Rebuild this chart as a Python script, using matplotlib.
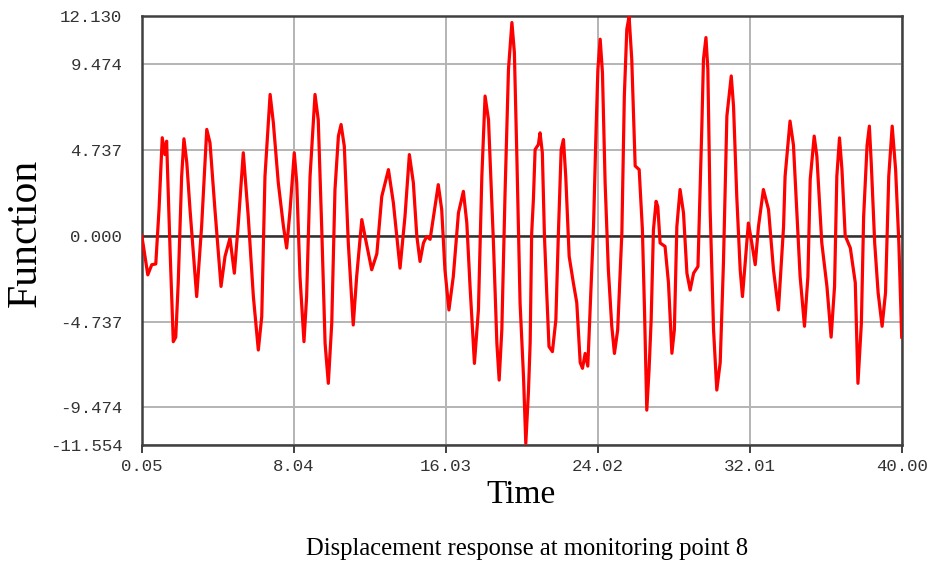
import matplotlib
matplotlib.use("Agg")
import matplotlib.pyplot as plt

# ---- data (time, displacement) ----
time = [0.05, 0.13, 0.37, 0.58, 0.79, 0.96, 1.13, 1.27, 1.36, 1.54, 1.71, 1.84, 1.97,
        2.15, 2.27, 2.42, 2.59, 2.94, 3.20, 3.47, 3.64, 3.90, 4.22, 4.43, 4.69, 4.92,
        5.13, 5.39, 5.65, 5.92, 6.18, 6.36, 6.53, 6.80, 6.97, 7.23, 7.50, 7.67, 7.85,
        8.07, 8.20, 8.37, 8.58, 8.72, 8.90, 9.16, 9.33, 9.51, 9.69, 9.86, 10.04, 10.21,
        10.39, 10.53, 10.70, 10.91, 11.17, 11.35, 11.62, 11.79, 12.14, 12.41, 12.67,
        13.02, 13.28, 13.63, 13.89, 14.12, 14.33, 14.51, 14.68, 14.86, 15.03, 15.21,
        15.47, 15.64, 15.82, 15.99, 16.20, 16.43, 16.70, 16.96, 17.14, 17.31, 17.54,
        17.75, 17.93, 18.10, 18.28, 18.54, 18.72, 18.84, 18.98, 19.15, 19.33, 19.51,
        19.64, 19.77, 19.94, 20.12, 20.24, 20.38, 20.47, 20.55, 20.64, 20.73, 20.90,
        20.99, 21.11, 21.22, 21.34, 21.46, 21.64, 21.82, 21.95, 22.10, 22.22, 22.34,
        22.52, 22.74, 22.92, 23.10, 23.22, 23.36, 23.50, 23.62, 23.80, 23.92, 24.03,
        24.15, 24.27, 24.41, 24.58, 24.76, 24.90, 25.07, 25.29, 25.42, 25.55, 25.67,
        25.81, 25.99, 26.20, 26.37, 26.48, 26.60, 26.72, 26.83, 26.95, 27.09, 27.18,
        27.30, 27.56, 27.74, 27.92, 28.05, 28.18, 28.35, 28.53, 28.71, 28.88, 29.06,
        29.29, 29.41, 29.49, 29.58, 29.71, 29.81, 29.93, 30.11, 30.28, 30.46, 30.63,
        30.81, 31.04, 31.16, 31.33, 31.51, 31.63, 31.77, 31.94, 32.12, 32.30, 32.47,
        32.73, 33.00, 33.26, 33.52, 33.79, 33.87, 34.13, 34.31, 34.48, 34.66, 34.89,
        35.07, 35.19, 35.40, 35.54, 35.80, 36.07, 36.29, 36.47, 36.59, 36.73, 36.86,
        37.03, 37.30, 37.56, 37.70, 37.88, 38.00, 38.18, 38.30, 38.40, 38.58, 38.76,
        38.97, 39.15, 39.32, 39.50, 39.68, 39.85, 40.00]
displacement = [0.0, -0.5, -2.16, -1.6, -1.56, 1.44, 5.41, 4.48, 5.22, -0.77, -5.85, -5.6, -2.6,
                3.28, 5.35, 4.04, 1.44, -3.36, 0.52, 5.87, 5.13, 1.44, -2.8, -1.14, -0.13, -2.07,
                0.7, 4.58, 1.07, -3.36, -6.31, -4.47, 3.28, 7.8, 6.24, 2.92, 0.52, -0.68, 1.44,
                4.58, 2.92, -2.25, -5.85, -3.36, 3.28, 7.8, 6.4, 0.52, -5.94, -8.15, -4.83, 2.55,
                5.5, 6.14, 4.94, -0.4, -4.93, -2.25, 0.89, -0.04, -1.88, -1.0, 2.17,
                3.65, 1.81, -1.79, 1.07, 4.48, 2.92, 0.0, -1.42, -0.4, -0.04, -0.2,
                1.62, 2.82, 1.44, -1.88, -4.1, -2.25, 1.26, 2.45, 0.7, -2.8, -7.05,
                -4.1, 3.28, 7.71, 6.4, -0.4, -5.94, -7.97, -5.2, 2.36, 9.19, 11.77,
                10.11, 4.39, -3.73, -7.78, -11.47, -8.6, -5.9, 0.15, 2.0, 4.76, 5.03,
                5.68, 4.58, 0.0, -3.14, -6.12, -6.4, -4.65, 0.0, 4.76, 5.31, 3.28,
                -1.14, -2.6, -3.7, -7.0, -7.32, -6.5, -7.2, -4.1, 0.5, 5.3, 9.19,
                10.85, 9.0, 2.92, -1.88, -5.0, -6.5, -5.2, 0.15, 7.71, 11.4, 12.1,
                9.74, 3.85, 3.65, 0.33, -4.1, -9.63, -7.4, -4.65, 0.33, 1.9, 1.6,
                -0.4, -0.59, -2.6, -6.49, -5.2, 0.5, 2.55, 1.26, -2.07, -3.0, -2.07,
                -1.7, 2.92, 5.87, 9.74, 10.94, 9.19, 1.44, -5.2, -8.52, -7.0, -1.5,
                6.6, 8.82, 7.15, 2.17, -1.88, -3.36, -1.5, 0.7, -0.4, -1.6, 0.5,
                2.55, 1.44, -1.88, -4.1, 0.5, 3.28, 6.33, 5.0, 1.44, -2.25, -5.0,
                -2.25, 3.1, 5.5, 4.39, -0.4, -2.8, -5.6, -2.8, 3.28, 5.4, 3.65,
                0.0, -0.68, -2.6, -8.15, -4.83, 1.07, 5.0, 6.05, 4.0, -0.4, -3.14,
                -5.0, -3.14, 3.28, 6.05, 3.65, -0.4, -5.6]

x_ticks = [0.05, 8.04, 16.03, 24.02, 32.01, 40.00]
x_tick_labels = ["0.05", "8.04", "16.03", "24.02", "32.01", "40.00"]
y_ticks = [-11.554, -9.474, -4.737, 0.0, 4.737, 9.474, 12.130]
y_tick_labels = ["-11.554", "-9.474", "-4.737", "0.000", "4.737", "9.474", "12.130"]

W, H = 933, 565
fig = plt.figure(figsize=(W / 100, H / 100), dpi=100)
left, right, top, bottom = 141.7, 901.7, 16.0, 445.0
ax = fig.add_axes([left / W, 1 - bottom / H, (right - left) / W, (bottom - top) / H])

ax.set_xlim(0.05, 40.00)
ax.set_ylim(-11.554, 12.130)

ax.grid(True, color="#b4b4b4", linewidth=1.4)
ax.set_axisbelow(True)
ax.axhline(0, color="#303030", linewidth=1.8, zorder=2)

ax.plot(time, displacement, color="#ff0000", linewidth=2.3, zorder=3)

for s in ax.spines.values():
    s.set_color("#404040")
    s.set_linewidth(1.8)

mono = "Liberation Mono"
ax.set_xticks(x_ticks)
ax.set_xticklabels(x_tick_labels, family=mono, fontsize=12.5, color="#333333")
ax.set_yticks(y_ticks)
ax.set_yticklabels(y_tick_labels, family=mono, fontsize=12.5, color="#333333")
ax.tick_params(axis="x", direction="out", length=6, width=1.4, color="#404040", pad=4)
ax.tick_params(axis="y", length=0, pad=14)

serif = "Liberation Serif"
fig.text(26 / W, 1 - 233 / H, "Function", rotation=90, ha="center", va="center",
         family=serif, fontsize=30, color="black")
fig.text(521 / W, 1 - 503 / H, "Time", ha="center", va="baseline",
         family=serif, fontsize=24, color="black")
fig.text(527 / W, 1 - 555 / H, "Displacement response at monitoring point 8",
         ha="center", va="baseline", family=serif, fontsize=17.7, color="black")

fig.savefig("out.png", dpi=100)
